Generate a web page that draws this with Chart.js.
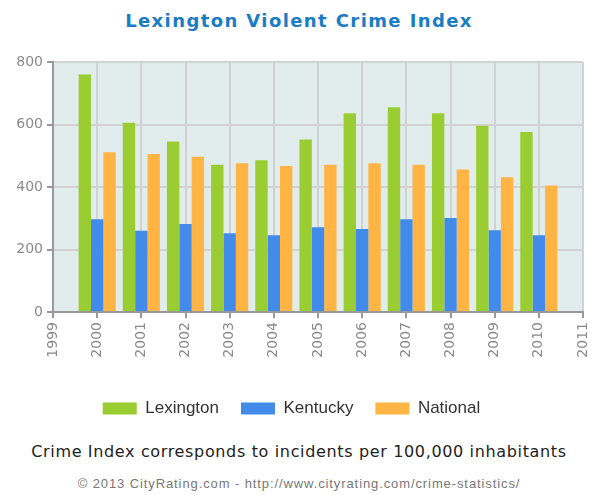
<!DOCTYPE html>
<html lang="en">
<head>
    <meta charset="UTF-8">
    <title>Lexington Violent Crime Index</title>
    <script src="https://cdn.jsdelivr.net/npm/chart.js"></script>
    <style>
        body {
            margin: 0;
            padding: 0;
            background: #fff;
        }
        #wrap {
            position: relative;
            width: 598px;
            height: 495px;
        }
        #chartBox {
            position: absolute;
            left: 0;
            top: 0;
            width: 598px;
            height: 427px;
        }
        .txt {
            position: absolute;
            left: 0;
            width: 598px;
            text-align: center;
            white-space: nowrap;
        }
        #title {
            top: 10px;
            line-height: 20px;
            font: bold 18px "DejaVu Sans", sans-serif;
            letter-spacing: 1.4px;
            color: #1a7dc4;
        }
        #note {
            top: 442px;
            line-height: 20px;
            font: 16px "DejaVu Sans", sans-serif;
            letter-spacing: 0.65px;
            color: #222;
        }
        #credit {
            top: 476px;
            line-height: 16px;
            font: 13px "Liberation Sans", Arial, sans-serif;
            letter-spacing: 0.9px;
            color: #777;
        }
    </style>
</head>
<body>
<div id="wrap">
    <div id="title" class="txt">Lexington Violent Crime Index</div>
    <div id="chartBox"><canvas id="crimeChart"></canvas></div>
    <div id="note" class="txt">Crime Index corresponds to incidents per 100,000 inhabitants</div>
    <div id="credit" class="txt">&copy; 2013 CityRating.com - http://www.cityrating.com/crime-statistics/</div>
</div>

<script>
    // x tick labels (1999 and 2011 are empty edge years)
    const years = ['1999', '2000', '2001', '2002', '2003', '2004', '2005',
                   '2006', '2007', '2008', '2009', '2010', '2011'];

    // violent crime index per 100,000
    const lexington = [null, 760, 606, 546, 471, 486, 552, 636, 655, 636, 596, 576, null];
    const kentucky  = [null, 297, 260, 282, 252, 246, 271, 266, 297, 301, 262, 246, null];
    const national  = [null, 511, 506, 497, 476, 467, 471, 476, 471, 456, 431, 405, null];

    const yTicks = [0, 200, 400, 600, 800];

    // light teal plot background
    const plotBg = {
        id: 'plotBg',
        beforeDraw(chart) {
            const a = chart.chartArea;
            const ctx = chart.ctx;
            ctx.save();
            ctx.fillStyle = '#e1ecec';
            ctx.fillRect(a.left, a.top, a.right - a.left, a.bottom - a.top);
            ctx.restore();
        }
    };

    const tickFont = { family: '"DejaVu Sans", sans-serif', size: 14 };

    new Chart(document.getElementById('crimeChart'), {
        type: 'bar',
        data: {
            labels: years,
            datasets: [
                { label: 'Lexington', data: lexington, backgroundColor: '#9acd32' },
                { label: 'Kentucky', data: kentucky, backgroundColor: '#428bea' },
                { label: 'National', data: national, backgroundColor: '#ffb444' }
            ]
        },
        options: {
            responsive: true,
            maintainAspectRatio: false,
            animation: false,
            datasets: {
                bar: {
                    categoryPercentage: 0.84,
                    barPercentage: 1.0,
                    borderWidth: 0
                }
            },
            layout: {
                padding: { top: 62, right: 15, left: 0, bottom: 0 }
            },
            scales: {
                x: {
                    offset: false,
                    grid: {
                        offset: false,
                        color: '#d2d2d2',
                        lineWidth: 2,
                        tickLength: 6,
                        tickColor: '#999'
                    },
                    border: { color: '#999', width: 2 },
                    ticks: {
                        autoSkip: false,
                        minRotation: 90,
                        maxRotation: 90,
                        padding: 4,
                        color: '#8a8a8a',
                        font: tickFont
                    },
                    afterFit(scale) {
                        scale.height = 66;
                        // keep the plot edge at the layout padding
                        scale.paddingLeft = 0;
                        scale.paddingRight = 0;
                    }
                },
                y: {
                    min: 0,
                    max: 800,
                    afterBuildTicks(scale) {
                        scale.ticks = yTicks.map(v => ({ value: v }));
                    },
                    grid: {
                        color: '#d2d2d2',
                        lineWidth: 2,
                        tickLength: 6,
                        tickColor: '#999'
                    },
                    border: { color: '#999', width: 2 },
                    ticks: {
                        padding: 4,
                        color: '#8a8a8a',
                        font: tickFont
                    },
                    afterFit(scale) { scale.width = 53; }
                }
            },
            plugins: {
                title: { display: false },
                tooltip: { enabled: false },
                legend: {
                    position: 'bottom',
                    labels: {
                        boxWidth: 34,
                        boxHeight: 12,
                        padding: 22,
                        color: '#333',
                        font: { family: '"Liberation Sans", Arial, sans-serif', size: 17 }
                    }
                }
            }
        },
        plugins: [plotBg]
    });
</script>
</body>
</html>
